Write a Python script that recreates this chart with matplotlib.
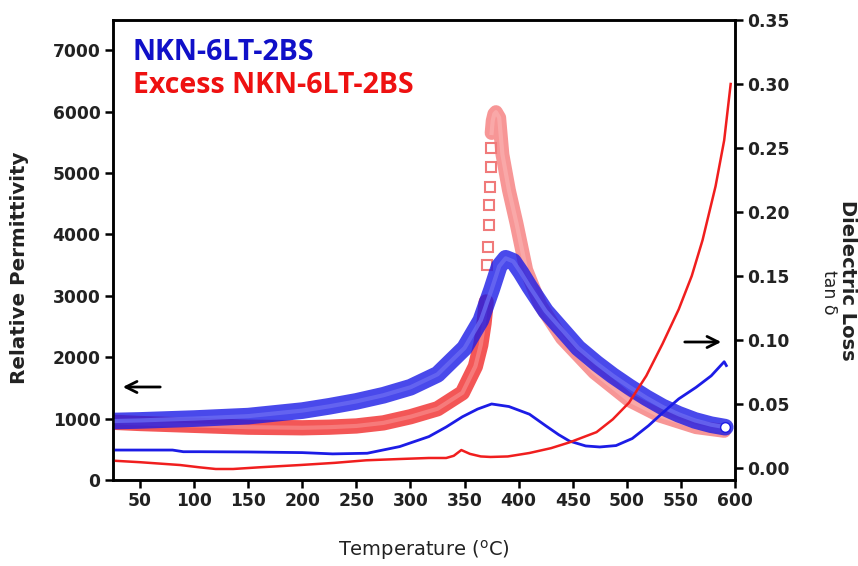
import matplotlib
matplotlib.use("Agg")
import matplotlib.pyplot as plt

# relative permittivity (left axis), NKN-6LT-2BS
temp_eps_blue = [25, 50, 100, 150, 200, 225, 250, 275, 300, 325, 350, 365, 375, 382, 388,
                 395, 402, 410, 425, 440, 455, 472, 487, 502, 518, 533, 548, 563, 578, 591]
eps_blue = [960, 970, 1000, 1040, 1130, 1200, 1280, 1380, 1510, 1720, 2150, 2600, 3100, 3480, 3610,
            3560, 3380, 3150, 2750, 2450, 2150, 1900, 1700, 1520, 1340, 1190, 1070, 970, 900, 860]

# relative permittivity (left axis), Excess NKN-6LT-2BS
temp_eps_red = [25, 50, 100, 150, 200, 225, 250, 275, 300, 325, 348, 360, 365, 368, 370,
                370.5, 371.5, 372.5, 373, 373.5, 374, 374.5, 375,
                376, 377.5, 379, 382, 385, 391, 398, 407, 420, 440, 470,
                502, 530, 564, 590]
eps_red = [940, 920, 890, 860, 850, 860, 880, 930, 1030, 1160, 1420, 1850, 2200, 2550, 2900,
           3500, 3800, 4150, 4480, 4770, 5100, 5410, 5650,
           5850, 5960, 5990, 5900, 5300, 4720, 4180, 3420, 2850, 2310, 1750,
           1300, 1050, 860, 800]

# tan delta (right axis), NKN-6LT-2BS
temp_tan_blue = [25, 50, 80, 90, 105, 150, 200, 228, 260, 290, 317, 333, 348, 362, 375,
                 391, 410, 425, 437, 447, 462, 475, 490, 505, 520, 533, 548, 564, 578, 590, 592]
tan_blue = [0.014, 0.014, 0.014, 0.0127, 0.0127, 0.0125, 0.012, 0.011, 0.0115, 0.0167, 0.0245, 0.032, 0.040, 0.046, 0.050,
            0.048, 0.042, 0.033, 0.026, 0.021, 0.0172, 0.0164, 0.0175, 0.023, 0.033, 0.043, 0.054, 0.063, 0.072, 0.083, 0.080]

# tan delta (right axis), Excess NKN-6LT-2BS
temp_tan_red = [25, 50, 87, 105, 120, 136, 160, 198, 230, 259, 290, 317, 333, 340, 347,
                355, 365, 374, 390, 410, 430, 447, 472, 487, 502, 518, 533, 548, 560, 570,
                582, 590, 596]
tan_red = [0.0057, 0.0045, 0.0023, 0.0005, -0.0008, -0.0008, 0.0005, 0.0023, 0.004, 0.006, 0.007, 0.0078, 0.0078, 0.0095, 0.014,
           0.011, 0.009, 0.0086, 0.009, 0.0117, 0.0155, 0.020, 0.028, 0.038, 0.051, 0.072, 0.097, 0.124, 0.150, 0.178,
           0.220, 0.256, 0.300]

x_ticks = [50, 100, 150, 200, 250, 300, 350, 400, 450, 500, 550, 600]
eps_ticks = [0, 1000, 2000, 3000, 4000, 5000, 6000, 7000]
tan_ticks = [0.00, 0.05, 0.10, 0.15, 0.20, 0.25, 0.30, 0.35]

BLUE = "#1c1ce6"
RED = "#f01e1e"
INK = "#222222"

plt.rcParams['font.family'] = ['DejaVu Sans']

fig = plt.figure(figsize=(8.58, 5.66), dpi=100)
ax = fig.add_axes([113 / 858, 1 - 480 / 566, (735 - 113) / 858, (480 - 20) / 566])
ax2 = ax.twinx()

# the excess curve: dense band, sparse squares on the steep rising edge
lo = temp_eps_red.index(370)
hi = temp_eps_red.index(375)
ax.plot(temp_eps_red[:lo + 1], eps_red[:lo + 1], color=RED, lw=11, alpha=0.75,
        solid_capstyle='round', zorder=2)
ax.plot(temp_eps_red[hi:], eps_red[hi:], color="#f25050", lw=10, alpha=0.6,
        solid_capstyle='round', zorder=2)
ax.plot(temp_eps_red[:lo + 1], eps_red[:lo + 1], color="#f88a8a", lw=3, alpha=0.7, zorder=2)
ax.plot(temp_eps_red[hi:], eps_red[hi:], color="#fbb0b0", lw=3, alpha=0.7, zorder=2)
ax.plot(temp_eps_red[lo + 1:hi], eps_red[lo + 1:hi], 's', ms=7.5, mfc='none', mec="#f07a7a",
        mew=1.5, zorder=2)

ax.plot(temp_eps_blue, eps_blue, color=BLUE, lw=12, alpha=0.8, solid_capstyle='round', zorder=3)
ax.plot(temp_eps_blue, eps_blue, color="#6a6af2", lw=3, alpha=0.8, zorder=3)
ax.plot(temp_eps_blue[-1:], eps_blue[-1:], 'o', ms=7, mfc='white', mec=BLUE, zorder=4)

# thin loss curves
ax2.plot(temp_tan_blue, tan_blue, color=BLUE, lw=2)
ax2.plot(temp_tan_red, tan_red, color=RED, lw=1.8)

ax.set_xlim(25, 600)
ax.set_ylim(0, 7490)
ax2.set_ylim(-0.0094, 0.35)
ax.set_xticks(x_ticks)
ax.set_yticks(eps_ticks)
ax2.set_yticks(tan_ticks)
ax2.set_yticklabels([f"{t:.2f}" for t in tan_ticks])

for a in (ax, ax2):
    for s in a.spines.values():
        s.set_linewidth(1.8)
    a.tick_params(direction='out', length=6, width=1.8, labelsize=12.3, pad=3)
    for lab in a.get_xticklabels() + a.get_yticklabels():
        lab.set_fontweight('bold')
        lab.set_color(INK)

ax.set_xlabel("Temperature ($^{\\mathrm{o}}$C)", fontsize=14, labelpad=20, color=INK)
fig.text(20 / 858, 1 - 268 / 566, "Relative Permittivity", rotation=90, fontsize=14.3,
         fontweight='bold', ha='center', va='center', color=INK)
fig.text(847 / 858, 1 - 280 / 566, "Dielectric Loss", rotation=270, fontsize=14,
         fontweight='bold', ha='center', va='center', color=INK)
fig.text(829 / 858, 1 - 292 / 566, "tan δ", rotation=270, fontsize=12.5,
         ha='center', va='center', color=INK)

ax.text(0.032, 0.93, "NKN-6LT-2BS", transform=ax.transAxes, color="#1010c8",
        fontsize=20.5, fontweight='bold', family=['Open Sans', 'DejaVu Sans'], va='center')
ax.text(0.032, 0.858, "Excess NKN-6LT-2BS", transform=ax.transAxes, color="#ee1111",
        fontsize=20.5, fontweight='bold', family=['Open Sans', 'DejaVu Sans'], va='center')

# direction arrows
ax.annotate("", xy=(120 / 858, 1 - 387 / 566), xytext=(163 / 858, 1 - 387 / 566),
            xycoords='figure fraction', textcoords='figure fraction',
            arrowprops=dict(arrowstyle='->', color='black', lw=2, mutation_scale=20))
ax.annotate("", xy=(724 / 858, 1 - 342 / 566), xytext=(682 / 858, 1 - 342 / 566),
            xycoords='figure fraction', textcoords='figure fraction',
            arrowprops=dict(arrowstyle='->', color='black', lw=2, mutation_scale=20))

fig.savefig("out.png", dpi=100)
